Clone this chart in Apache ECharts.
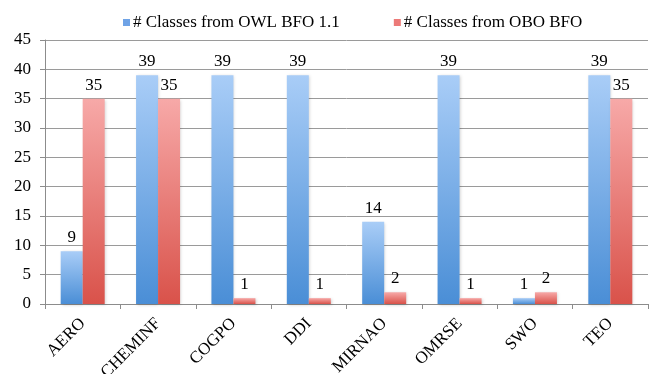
<!DOCTYPE html>
<html>
<head>
<meta charset="utf-8">
<script src="https://cdn.jsdelivr.net/npm/echarts@6/dist/echarts.min.js"></script>
<style>
  html, body { margin: 0; padding: 0; background: #fff; }
  #chart { width: 649px; height: 374px; }
</style>
</head>
<body>
<div id="chart"></div>
<script>
// Ontologies and the number of BFO classes each one imports
const categories = ['AERO', 'CHEMINF', 'COGPO', 'DDI', 'MIRNAO', 'OMRSE', 'SWO', 'TEO'];
const owlBfo = [9, 39, 39, 39, 14, 39, 1, 39];
const oboBfo = [35, 35, 1, 1, 2, 1, 2, 35];
const seriesNames = ['# Classes from OWL BFO 1.1', '# Classes from OBO BFO'];

const FONT = '"Liberation Serif", "Times New Roman", serif';

function grad(top, bottom) {
  return new echarts.graphic.LinearGradient(0, 0, 0, 1, [
    { offset: 0, color: top },
    { offset: 1, color: bottom }
  ]);
}

const labelStyle = { show: true, position: 'top', distance: 5, fontFamily: FONT, fontSize: 17, color: '#000' };

const chart = echarts.init(document.getElementById('chart'), null, { renderer: 'canvas' });
chart.setOption({
  animation: false,
  textStyle: { fontFamily: FONT },
  legend: {
    top: 9,
    left: 118,
    itemWidth: 7,
    itemHeight: 7,
    itemGap: 54,
    icon: 'rect',
    textStyle: { fontFamily: FONT, fontSize: 17, color: '#000', padding: [0, 0, 0, -2] },
    data: [
      { name: seriesNames[0], itemStyle: { color: '#6fa3e6' } },
      { name: seriesNames[1], itemStyle: { color: '#ec7a78' } }
    ]
  },
  // fixed plot box; the rotated category names may run past the bottom edge
  grid: { left: 45, right: 1, top: 40, bottom: 70, containLabel: false, outerBoundsMode: 'none' },
  xAxis: {
    type: 'category',
    data: categories,
    axisLine: { lineStyle: { color: '#8c8c8c', width: 1 } },
    axisTick: { show: true, length: 5, lineStyle: { color: '#8c8c8c' } },
    axisLabel: { rotate: 45, fontFamily: FONT, fontSize: 17, color: '#000', margin: 17, interval: 0 }
  },
  yAxis: {
    type: 'value',
    min: 0,
    max: 45,
    interval: 5,
    axisLine: { show: true, lineStyle: { color: '#8c8c8c', width: 1 } },
    axisTick: { show: true, length: 5, lineStyle: { color: '#8c8c8c' } },
    splitLine: { lineStyle: { color: '#9a9a9a', width: 1 } },
    axisLabel: { fontFamily: FONT, fontSize: 17, color: '#000', margin: 14 }
  },
  series: [
    {
      name: seriesNames[0],
      type: 'bar',
      data: owlBfo,
      barWidth: 22,
      barGap: '0%',
      itemStyle: {
        color: grad('#a9cdf7', '#4a8ed6'),
        shadowColor: 'rgba(0,0,0,0.18)', shadowBlur: 3, shadowOffsetX: 1, shadowOffsetY: 1
      },
      label: labelStyle
    },
    {
      name: seriesNames[1],
      type: 'bar',
      data: oboBfo,
      barWidth: 22,
      barGap: '0%',
      itemStyle: {
        color: grad('#f7a9a8', '#d9524a'),
        shadowColor: 'rgba(0,0,0,0.18)', shadowBlur: 3, shadowOffsetX: 1, shadowOffsetY: 1
      },
      label: labelStyle
    }
  ]
});
</script>
</body>
</html>
